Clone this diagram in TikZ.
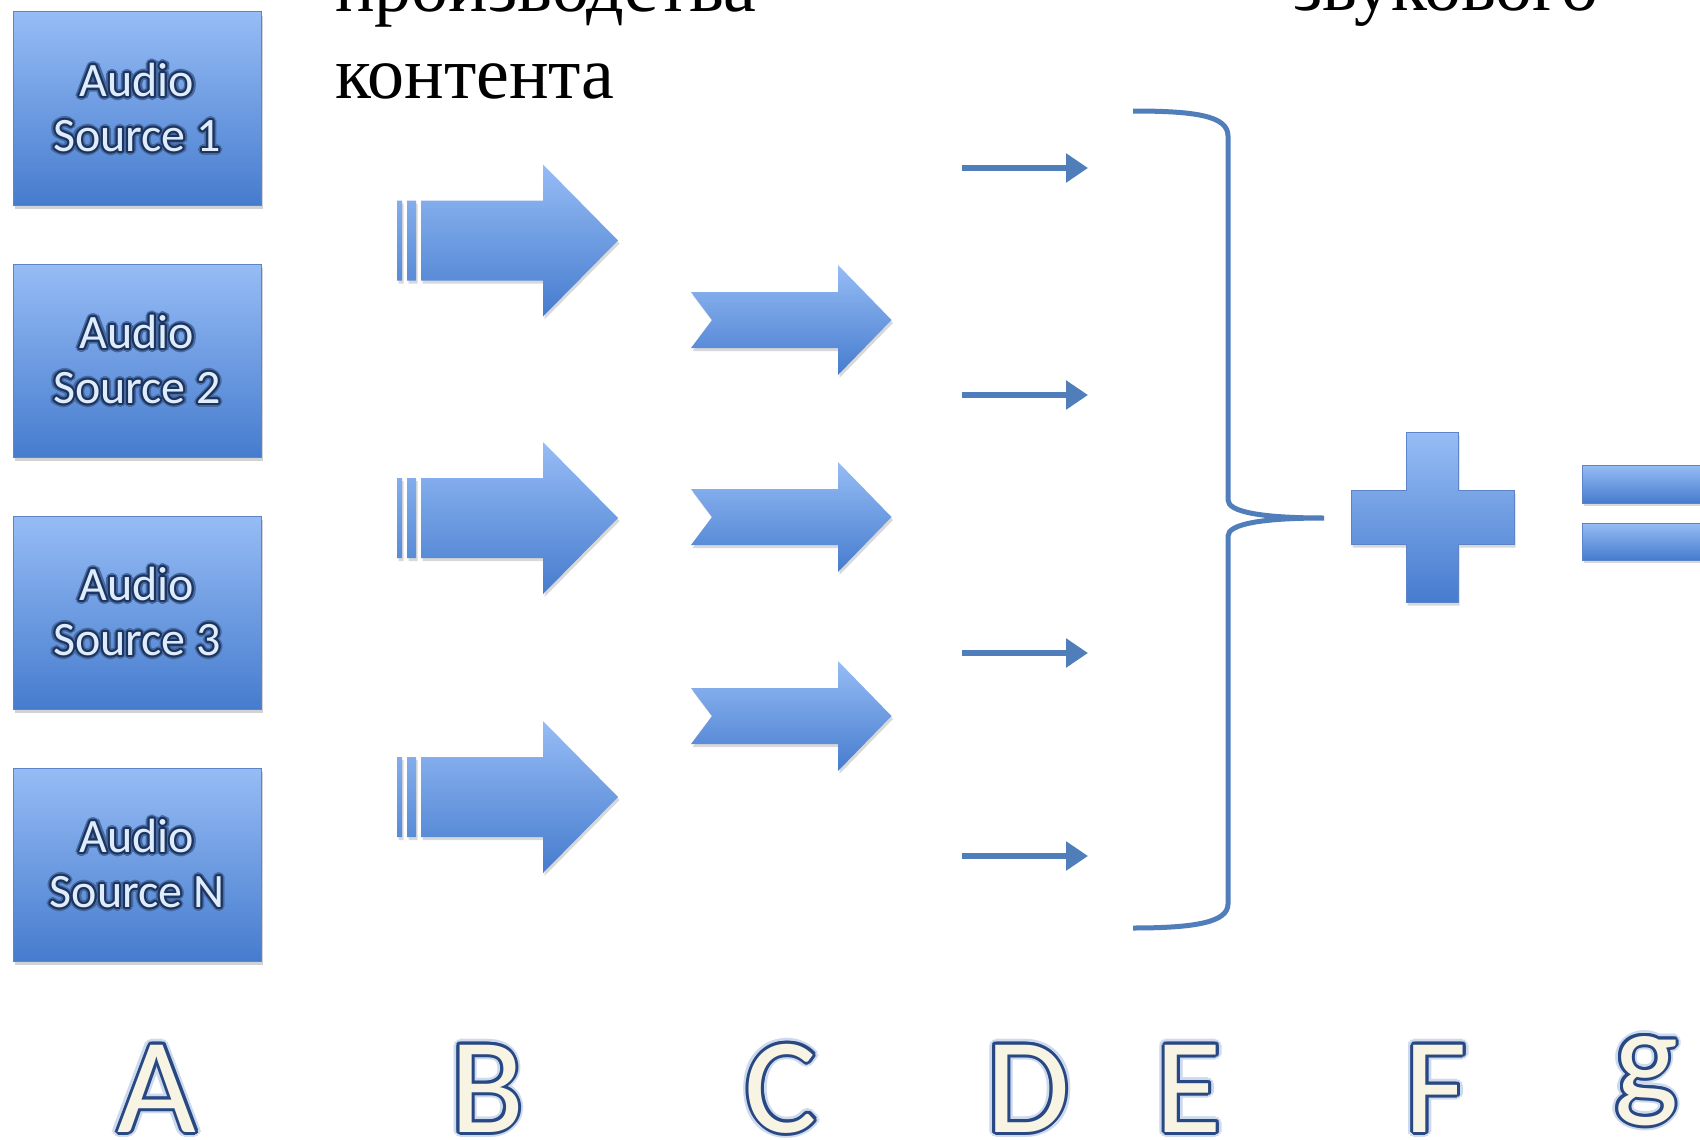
\documentclass[tikz,border=0pt]{standalone}
\usepackage{fontspec}
\setmainfont{Liberation Serif}
\newfontfamily\carlito{Carlito}
\usetikzlibrary{calc,shadows,arrows.meta}

\definecolor{bluetop}{RGB}{150,188,245}
\definecolor{bluebot}{RGB}{70,124,206}
\definecolor{blueedge}{RGB}{92,132,198}
\definecolor{steel}{RGB}{80,126,186}
\definecolor{srcfill}{RGB}{222,236,251}
\definecolor{srcline}{RGB}{28,52,96}
\definecolor{srcglow}{RGB}{70,105,160}
\definecolor{cream}{RGB}{248,244,228}
\definecolor{lettline}{RGB}{40,72,132}
\definecolor{lettglow}{RGB}{205,218,238}

\newcommand\outlinednode[7]{%
  \foreach \ang in {0,30,...,330}{\node[#3,text=#7] at ($(#2)+(\ang:#5*1.9)$) {#4};}%
  \foreach \ang in {0,30,...,330}{\node[#3,text=#6] at ($(#2)+(\ang:#5)$) {#4};}%
  \node[#3] (#1) at (#2) {#4};}

\begin{document}
\begin{tikzpicture}[x=1pt,y=-1pt,
  srcbox/.style={rectangle, minimum width=248pt, minimum height=193pt, inner sep=0pt,
    top color=bluetop, bottom color=bluebot, draw=blueedge, line width=1pt,
    drop shadow={shadow xshift=1.5pt, shadow yshift=-4pt, opacity=0.35}},
  srctext/.style={font=\carlito\fontsize{48}{55}\selectfont, align=center, text=srcfill, inner sep=0pt},
  letter/.style={font=\carlito\fontsize{136}{140}\selectfont, text=cream, inner sep=0pt, anchor=base},
  rutext/.style={font=\fontsize{74}{86}\selectfont, anchor=base west, inner sep=0pt, text=black},
  blueshape/.style={top color=bluetop, bottom color=bluebot,
    drop shadow={shadow xshift=1.5pt, shadow yshift=-3pt, opacity=0.3}},
  edgedshape/.style={blueshape, draw=blueedge, line width=1pt},
  darrow/.style={draw=steel, line width=6pt, -{Triangle[length=22pt,width=28pt]}},
  bracestyle/.style={draw=steel, line width=5pt}
]
\useasboundingbox (0,0) rectangle (1700,1140);
\fill[white] (0,0) rectangle (1700,1140);
\clip (0,0) rectangle (1700,1140);

% cut-off caption text
\node[rutext] (t1) at (335,12) {производства};
\node[rutext] (t2) at (335,98) {контента};
\node[rutext] (t3) at (1293,11) {звукового};

% A: audio source boxes
\foreach \i/\yy/\lab in {1/108.5/1, 2/360.5/2, 3/612.5/3, 4/864.5/N} {
  \node[srcbox] (src\i) at (137,\yy) {};
  \outlinednode{srct\i}{137,\yy-1}{srctext}{Audio\\Source \lab}{2pt}{srcline}{srcglow}
}

% B: striped arrows
\foreach \yy in {240.5,518,797} {
  \path[blueshape, shift={(0,\yy)}]
    (397,-40) rectangle (402,40)
    (407,-40) rectangle (416,40)
    (421,-40) -- (543,-40) -- (543,-76) -- (618,0) -- (543,76) -- (543,40) -- (421,40) -- cycle;
}

% C: notched arrows
\foreach \yy in {320,517,716} {
  \path[blueshape, shift={(0,\yy)}]
    (691,-28) -- (838,-28) -- (838,-55) -- (891.5,0) -- (838,55) -- (838,28) -- (691,28) -- (712,0) -- cycle;
}

% D: thin arrows
\foreach \i/\yy in {1/168,2/395,3/653,4/856} {
  \coordinate (d\i s) at (962,\yy);
  \coordinate (d\i e) at (1088,\yy);
  \draw[darrow] (d\i s) -- (d\i e);
}

% E: brace
\coordinate (bt) at (1133,111);
\coordinate (bm) at (1324,518);
\coordinate (bb) at (1133,928);
\draw[bracestyle] (bt) .. controls (1196,111) and (1228,116) .. (1228,136) -- (1228,500)
  .. controls (1228,512) and (1262,518) .. (bm)
  .. controls (1262,518) and (1228,524) .. (1228,536) -- (1228,904)
  .. controls (1228,922) and (1196,928) .. (bb);

% F: plus
\path[edgedshape] (1406,432.5) -- (1458,432.5) -- (1458,490.5) -- (1514,490.5) -- (1514,544.5)
  -- (1458,544.5) -- (1458,602.5) -- (1406,602.5) -- (1406,544.5) -- (1351,544.5)
  -- (1351,490.5) -- (1406,490.5) -- cycle;

% equals
\path[edgedshape] (1582,465) rectangle (1715,503);
\path[edgedshape] (1582,523) rectangle (1715,560);

% bottom letters
\foreach \lname/\xx in {A/157, B/487, C/781, D/1028, E/1189, F/1436} {
  \outlinednode{lab\lname}{\xx,1132}{letter}{\lname}{3pt}{lettline}{lettglow}
}
\outlinednode{labg}{1646,1102}{letter}{g}{3pt}{lettline}{lettglow}
\end{tikzpicture}
\end{document}
